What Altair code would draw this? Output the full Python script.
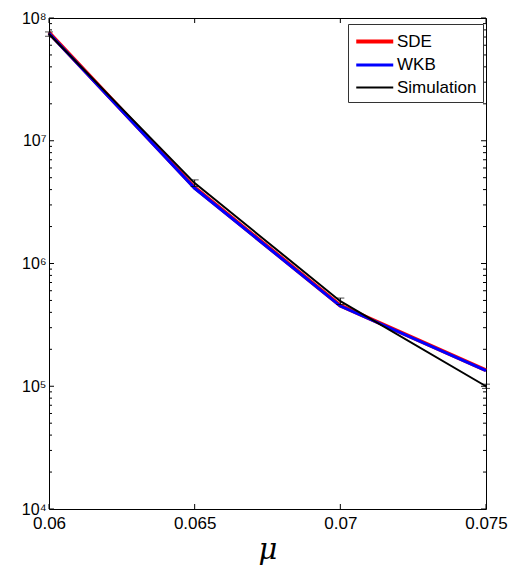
import altair as alt
import pandas as pd

# ---- data ----
mu = [0.06, 0.065, 0.07, 0.075]
sde = [7.6e7, 4.15e6, 4.55e5, 1.35e5]
wkb = [7.5e7, 4.10e6, 4.50e5, 1.34e5]
sim = [7.4e7, 4.52e6, 4.93e5, 1.0e5]
sim_err = [3.0e6, 2.8e5, 3.0e4, 4.0e3]

series_names = ["SDE", "WKB", "Simulation"]
series_colors = ["#ff0000", "#0000ff", "#000000"]
series_widths = [4, 2, 1]

x_ticks = [0.06, 0.065, 0.07, 0.075]
y_major = [1e4, 1e5, 1e6, 1e7, 1e8]
y_minor = [m * 10 ** k for k in range(4, 8) for m in range(2, 10)]

W, H = 437, 491
FONT = "Liberation Sans"

rows = []
for name, vals in zip(series_names, [sde, wkb, sim]):
    for x, v in zip(mu, vals):
        rows.append({"mu": x, "value": v, "series": name})
lines_df = pd.DataFrame(rows)

err_df = pd.DataFrame({
    "mu": mu,
    "lo": [s - e for s, e in zip(sim, sim_err)],
    "hi": [s + e for s, e in zip(sim, sim_err)],
})

xscale = alt.Scale(domain=[0.06, 0.075], nice=False, zero=False)
yscale = alt.Scale(type="log", domain=[1e4, 1e8], nice=False)
cscale = alt.Scale(domain=series_names, range=series_colors)
wscale = alt.Scale(domain=series_names, range=series_widths)

sup = "['\u2070','\u00b9','\u00b2','\u00b3','\u2074','\u2075','\u2076','\u2077','\u2078','\u2079']"

x_axis = alt.Axis(values=x_ticks, format=".3~f", ticks=False, domain=False, grid=False,
                  labelFlush=False, labelFontSize=17, labelFont=FONT, labelColor="black",
                  labelPadding=6, title="\u03bc", titleFont="DejaVu Serif", titleFontStyle="italic",
                  titleFontWeight="normal", titleFontSize=29, titleColor="black", titlePadding=4)
y_axis = alt.Axis(values=y_major, ticks=False, domain=False, grid=False,
                  labelExpr="'10' + " + sup + "[round(log(datum.value)/LN10)]",
                  labelFontSize=16, labelFont=FONT, labelColor="black", labelPadding=3,
                  labelBaseline="middle", labelFlush=False, title=None)

legend = alt.Legend(title=None, orient="none", legendX=299, legendY=6,
                    symbolType="M-1,0H3", symbolSize=342, labelFontSize=17, labelFont=FONT,
                    labelColor="black", fillColor="white", strokeColor="#333333",
                    padding=6, rowPadding=4, labelOffset=20, cornerRadius=0, symbolOpacity=1,
                    symbolFillColor="transparent")

X = lambda f: alt.X(f, scale=xscale, axis=x_axis)
Y = lambda f: alt.Y(f, scale=yscale, axis=y_axis)

def line_layer(name):
    return alt.Chart(lines_df).transform_filter(
        alt.datum.series == name
    ).mark_line(strokeCap="butt", strokeJoin="miter", clip=False).encode(
        x=X("mu:Q"),
        y=Y("value:Q"),
        color=alt.Color("series:N", scale=cscale, legend=legend, sort=series_names),
        strokeWidth=alt.StrokeWidth("series:N", scale=wscale, legend=legend, sort=series_names),
    )

layers = [line_layer(n) for n in series_names]

err_rule = alt.Chart(err_df).mark_rule(color="black", strokeWidth=1).encode(
    x=X("mu:Q"), y=Y("lo:Q"), y2="hi:Q",
)
cap_lo = alt.Chart(err_df).mark_tick(color="black", orient="horizontal", size=8, thickness=1).encode(
    x=X("mu:Q"), y=Y("lo:Q"),
)
cap_hi = alt.Chart(err_df).mark_tick(color="black", orient="horizontal", size=8, thickness=1).encode(
    x=X("mu:Q"), y=Y("hi:Q"),
)

# axis tick marks (inward, MATLAB style) on all four sides
ymaj_df = pd.DataFrame({"v": y_major})
ymin_df = pd.DataFrame({"v": y_minor})
xt_df = pd.DataFrame({"v": x_ticks})

def yticks(df, length, right=False):
    x0 = W if right else 0
    x1 = W - length if right else length
    return alt.Chart(df).mark_rule(color="black", strokeWidth=1).encode(
        y=Y("v:Q"), x=alt.value(x0), x2=alt.value(x1),
    )

def xticks(df, length, top=False):
    y0 = 0 if top else H
    y1 = length if top else H - length
    return alt.Chart(df).mark_rule(color="black", strokeWidth=1).encode(
        x=X("v:Q"), y=alt.value(y0), y2=alt.value(y1),
    )

tick_layers = [
    yticks(ymaj_df, 5), yticks(ymin_df, 3),
    yticks(ymaj_df, 5, True), yticks(ymin_df, 3, True),
    xticks(xt_df, 5), xticks(xt_df, 5, True),
]

chart = alt.layer(*tick_layers, *layers, err_rule, cap_lo, cap_hi).properties(
    width=W, height=H,
    autosize=alt.AutoSizeParams(type="none"),
    padding={"left": 49, "top": 18, "right": 29, "bottom": 58},
    background="white",
).configure_view(stroke="black", strokeWidth=1)

chart.save("out.html", embed_options={"renderer": "svg", "actions": False})
